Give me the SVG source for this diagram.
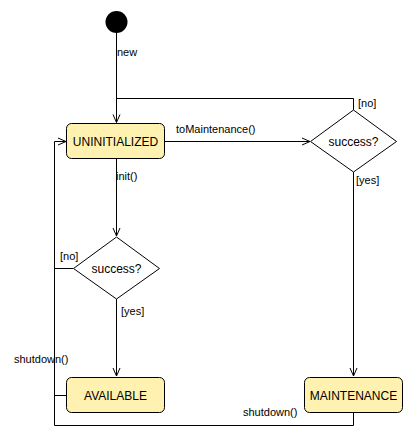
<svg xmlns="http://www.w3.org/2000/svg" width="414" height="436" viewBox="0 0 414 436">
<style>
.state{fill:#fff2b0;stroke:#000;stroke-width:1}
.dec{fill:#fff;stroke:#000;stroke-width:1}
.edge{fill:none;stroke:#000;stroke-width:1}
.t{font-family:"Liberation Sans",Arial,sans-serif;font-size:12px;fill:#000}
.l{font-family:"Liberation Sans",Arial,sans-serif;font-size:11px;fill:#000}
</style>
<defs>
<marker id="arr" markerWidth="10" markerHeight="10" refX="9" refY="5" orient="auto" markerUnits="userSpaceOnUse">
<path d="M1,1.5 L9,5 L1,8.5" fill="none" stroke="#000" stroke-width="1"/>
</marker>
</defs>
<rect width="414" height="436" fill="#fff"/>
<g id="connectors">
<path class="edge" d="M116.5,33 V122.5" marker-end="url(#arr)"/>
<path class="edge" d="M353.5,110 V98.5 H116.5"/>
<path class="edge" d="M165,141.5 H310" marker-end="url(#arr)"/>
<path class="edge" d="M353.5,172 V376" marker-end="url(#arr)"/>
<path class="edge" d="M116.5,159 V236" marker-end="url(#arr)"/>
<path class="edge" d="M73,268.5 H54.5 V141.5 H66" marker-end="url(#arr)"/>
<path class="edge" d="M116.5,299 V376" marker-end="url(#arr)"/>
<path class="edge" d="M66.5,395.5 H54.5"/>
<path class="edge" d="M353.5,413 V425.5 H54.5 V268"/>
<text class="l" x="117" y="56">new</text>
<text class="l" x="358" y="107">[no]</text>
<text class="l" x="176" y="133">toMaintenance()</text>
<text class="l" x="356" y="184">[yes]</text>
<text class="l" x="116" y="180">init()</text>
<text class="l" x="60" y="260">[no]</text>
<text class="l" x="121" y="315">[yes]</text>
<text class="l" x="14" y="363">shutdown()</text>
<text class="l" x="243" y="416">shutdown()</text>
</g>
<g id="start"><circle cx="116.5" cy="22" r="11" fill="#000"/></g>
<g id="uninitialized">
<rect class="state" x="66.5" y="123.5" width="98" height="35" rx="5"/>
<text class="t" x="115.5" y="145.5" text-anchor="middle">UNINITIALIZED</text>
</g>
<g id="decision-maint">
<polygon class="dec" points="353.5,110 396.5,141.5 353.5,172 310.5,141.5"/>
<text class="t" x="353.5" y="145.5" text-anchor="middle">success?</text>
</g>
<g id="decision-init">
<polygon class="dec" points="116.5,237 159.5,268.5 116.5,299 73.5,268.5"/>
<text class="t" x="116.5" y="272.5" text-anchor="middle">success?</text>
</g>
<g id="available">
<rect class="state" x="66.5" y="377.5" width="98" height="35" rx="5"/>
<text class="t" x="115.5" y="399.5" text-anchor="middle">AVAILABLE</text>
</g>
<g id="maintenance">
<rect class="state" x="304.5" y="377.5" width="98" height="35" rx="5"/>
<text class="t" x="353.5" y="399.5" text-anchor="middle">MAINTENANCE</text>
</g>
</svg>
